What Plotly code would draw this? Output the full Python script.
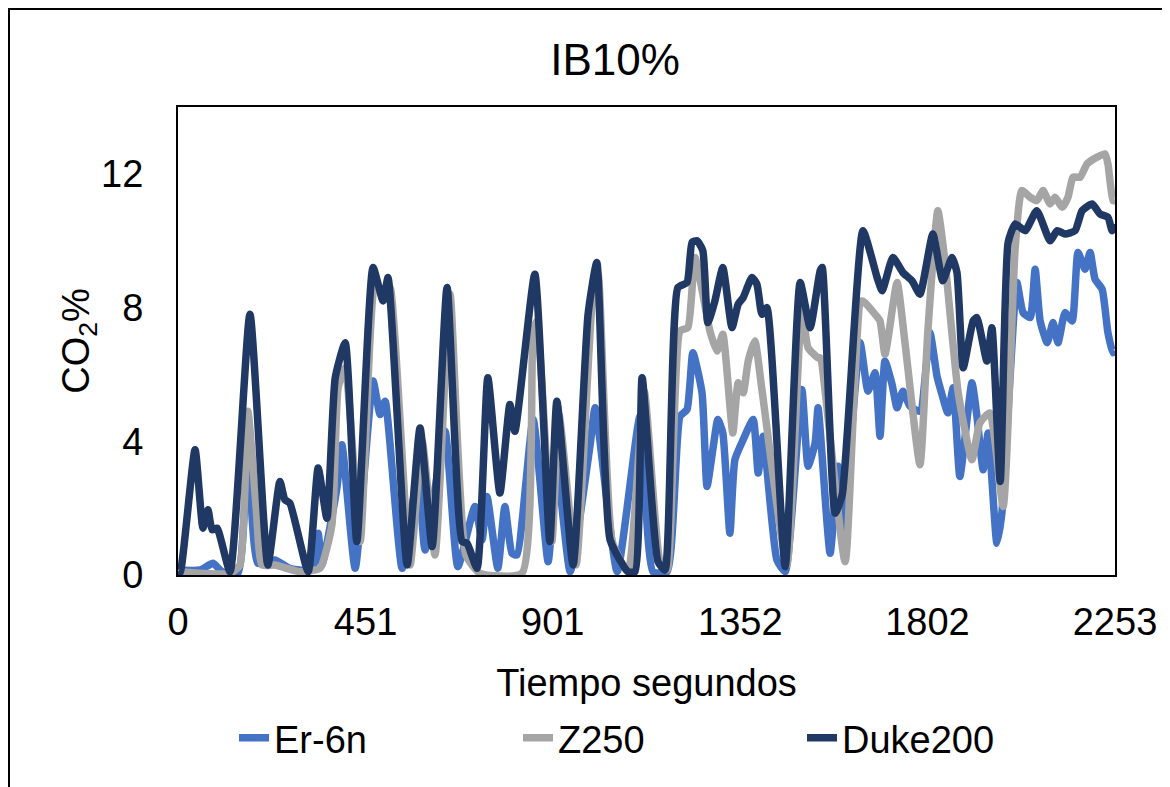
import plotly.graph_objects as go

# ---- data (time in seconds, CO2 %) ----
t_er = [0, 53, 84, 106, 144, 168, 192, 233, 269, 322, 337, 346, 382, 394, 426, 469, 486, 498, 539,
        577, 594, 642, 673, 714, 731, 743, 769, 786, 803, 815, 854, 890, 911, 943, 991, 1003, 1056,
        1111, 1142, 1176, 1207, 1224, 1238, 1260, 1272, 1286, 1298, 1310, 1327, 1339, 1359, 1383,
        1395, 1407, 1440, 1460, 1500, 1515, 1532, 1539, 1568, 1587, 1597, 1640, 1659, 1676, 1688,
        1700, 1717, 1729, 1743, 1760, 1784, 1808, 1825, 1837, 1851, 1864, 1880, 1909, 1921, 1936,
        1948, 1969, 1981, 2001, 2017, 2032, 2049, 2061, 2073, 2090, 2104, 2116, 2133, 2150, 2164,
        2181, 2193, 2205, 2222, 2236, 2248, 2253]
v_er = [0.15, 0.15, 0.35, 0.1, 0.05, 3.8, 0.35, 0.45, 0.2, 0.15, 1.25, 0.3, 2.6, 3.9, 0.2, 5.8, 4.8, 5.2, 0.2,
        3.05, 0.75, 4.3, 0.25, 2.05, 1.05, 2.35, 0.2, 2.05, 0.65, 0.6, 4.65, 0.4, 3.25, 0.1, 3.9, 5.0, 0.1,
        4.75, 0.1, 0.1, 4.75, 4.95, 6.65, 5.45, 2.65, 3.75, 4.65, 4.25, 1.25, 3.45, 4.05, 4.65,
        3.05, 4.15, 0.45, 0.1, 5.55, 3.25, 3.95, 5.0, 0.65, 3.25, 1.0, 6.95, 5.5, 6.05, 4.15,
        6.4, 5.7, 5.0, 5.5, 5.05, 4.9, 7.25, 5.95, 5.4, 4.85, 5.6, 2.95, 5.75, 4.75, 3.15,
        4.25, 0.95, 1.85, 6.0, 8.75, 7.85, 7.7, 9.15, 7.6, 6.95, 7.55, 6.95, 7.85, 7.6, 9.65,
        9.15, 9.65, 8.85, 8.55, 7.25, 6.65, 6.7]

t_z = [0, 125, 149, 168, 188, 202, 233, 293, 341, 370, 385, 402, 438, 474, 498, 510, 558, 587, 618,
       654, 692, 726, 827, 854, 863, 899, 916, 957, 995, 1010, 1044, 1082, 1121, 1159, 1176, 1207,
       1226, 1243, 1279, 1296, 1310, 1334, 1347, 1359, 1371, 1387, 1404, 1464, 1500, 1515, 1539,
       1544, 1604, 1645, 1676, 1688, 1700, 1729, 1748, 1784, 1803, 1827, 1844, 1876, 1909, 1928,
       1952, 1984, 2013, 2029, 2049, 2065, 2080, 2097, 2109, 2126, 2140, 2152, 2169, 2186, 2210,
       2229, 2236, 2248, 2253]
v_z = [0.1, 0.05, 0.3, 4.9, 2.0, 0.3, 0.3, 0.1, 0.2, 1.5, 5.6, 6.2, 1.0, 8.8, 8.3, 8.6, 0.3, 4.0, 0.6,
       8.4, 0.6, 0.05, 0.05, 7.3, 7.6, 1.0, 4.8, 0.3, 8.0, 9.0, 1.0, 0.1, 5.5, 0.4, 0.15, 7.3,
       7.4, 9.5, 7.3, 6.7, 7.2, 4.25, 5.75, 5.45, 6.4, 7.0, 5.55, 0.3, 7.95, 6.8, 6.5,
       6.5, 0.4, 8.2, 7.8, 7.6, 6.6, 8.75, 6.95, 3.3, 7.3, 10.9, 9.4, 5.45, 3.45, 4.55,
       4.85, 2.05, 9.8, 11.5, 11.3, 11.2, 11.5, 11.1, 11.3, 11.0, 11.3, 11.9, 11.9, 12.3, 12.5,
       12.6, 12.3, 11.2, 11.2]

t_duke = [0, 5, 41, 60, 72, 82, 94, 125, 173, 216, 245, 257, 269, 313, 337, 358, 378, 402, 430,
          469, 493, 505, 551, 582, 611, 647, 683, 695, 719, 745, 774, 798, 810, 858, 894, 911,
          950, 986, 1007, 1039, 1082, 1099, 1116, 1154, 1171, 1202, 1224, 1236, 1248, 1262, 1274,
          1291, 1310, 1332, 1347, 1359, 1380, 1392, 1404, 1416, 1460, 1496, 1520, 1544, 1549,
          1580, 1597, 1647, 1681, 1693, 1719, 1743, 1765, 1784, 1815, 1839, 1861, 1873, 1888,
          1912, 1921, 1945, 1957, 1977, 1996, 2013, 2037, 2065, 2097, 2114, 2133, 2157, 2174,
          2198, 2217, 2236, 2246, 2253]
v_duke = [0.1, 0.06, 3.75, 1.4, 1.95, 1.35, 1.4, 0.1, 7.8, 0.3, 2.8, 2.25, 2.15, 0.1, 3.2, 1.7, 5.9, 6.95, 1.0,
          9.2, 8.2, 8.9, 0.3, 4.4, 0.85, 8.6, 1.0, 0.95, 0.2, 5.9, 2.45, 5.1, 4.3, 9.0, 1.0, 5.2,
          0.3, 7.8, 9.35, 1.05, 0.1, 0.1, 5.9, 0.4, 0.15, 8.6, 8.75, 9.95, 10.0, 9.7, 7.55,
          8.2, 9.2, 7.4, 8.1, 8.3, 8.9, 8.7, 7.8, 8.0, 0.25, 8.75, 7.4, 9.1, 9.2,
          1.85, 2.4, 10.3, 8.9, 8.5, 9.5, 9.05, 8.8, 8.4, 10.2, 8.8, 9.5, 9.05, 6.2,
          7.6, 7.7, 6.4, 7.4, 2.8, 9.95, 10.5, 10.3, 10.9, 10.0, 10.3, 10.2, 10.3, 10.9,
          11.1, 10.8, 10.7, 10.3, 10.5]

series_names = ["Er-6n", "Z250", "Duke200"]
series_colors = ["#4472C4", "#A5A5A5", "#203864"]
x_ticks = [0, 451, 901, 1352, 1802, 2253]
y_ticks = [0, 4, 8, 12]

FONT = "Liberation Sans, Arial, sans-serif"
FS = 38

fig = go.Figure()
for name, tx, vy, col in zip(series_names, [t_er, t_z, t_duke], [v_er, v_z, v_duke], series_colors):
    fig.add_trace(go.Scatter(
        x=tx, y=vy, name=name, mode="lines",
        line=dict(color=col, width=7.5, shape="spline", smoothing=0.5),
    ))

L, T, PW, PH = 170, 99, 937, 468
fig.update_layout(
    width=1170, height=787,
    margin=dict(l=L, r=1170 - L - PW, t=T, b=787 - T - PH),
    paper_bgcolor="white", plot_bgcolor="white",
    font=dict(family=FONT, size=FS, color="black"),
    title=dict(text="IB10%", x=607 / 1170, xanchor="center", y=1 - 52 / 787, yanchor="middle",
               font=dict(size=44, family=FONT, color="black")),
    showlegend=True,
    legend=dict(orientation="h", x=(226 - L) / PW, xanchor="left",
                y=(T + PH - 730) / PH, yanchor="middle",
                font=dict(size=FS, family=FONT), entrywidth=239, entrywidthmode="pixels",
                itemwidth=30, tracegroupgap=0),
)

fig.update_xaxes(
    range=[0, 2253], tickvals=x_ticks, ticktext=[str(v) for v in x_ticks],
    showgrid=False, zeroline=False, showline=True, linecolor="black", linewidth=2, mirror=True,
    ticks="", ticklabelstandoff=12,
    title=dict(text="Tiempo segundos", standoff=28, font=dict(size=FS, family=FONT)),
)
fig.update_yaxes(
    range=[0, 14], tickvals=y_ticks, ticktext=[str(v) for v in y_ticks],
    showgrid=False, zeroline=False, showline=True, linecolor="black", linewidth=2, mirror=True,
    ticks="", ticklabelstandoff=25,
    title=dict(text="CO<sub>2</sub>%", standoff=0, font=dict(size=FS, family=FONT)),
)

# outer chart frame
fig.add_shape(type="rect", xref="paper", yref="paper",
              x0=(1 - L) / PW, x1=(1200 - L) / PW,
              y0=(T + PH - 820) / PH, y1=(T + PH - 1) / PH,
              line=dict(color="black", width=2), fillcolor="rgba(0,0,0,0)", layer="below")

fig.write_html("out.html")
